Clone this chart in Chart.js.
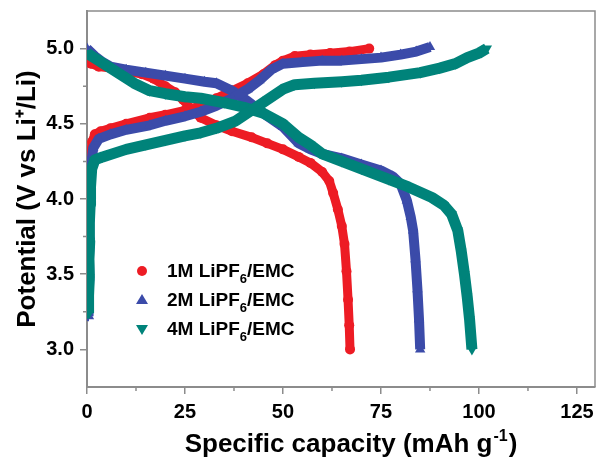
<!DOCTYPE html>
<html>
<head>
<meta charset="utf-8">
<script src="https://cdn.jsdelivr.net/npm/chart.js@4/dist/chart.umd.min.js"></script>
<style>
  html, body { margin: 0; padding: 0; background: #fff; }
</style>
</head>
<body>
<canvas id="chart" width="597" height="462"></canvas>
<script>
// --- data (capacity in mAh/g, potential in V) ---
const xTicks = [0, 25, 50, 75, 100, 125];
const yTicks = [3.0, 3.5, 4.0, 4.5, 5.0];
const xMinor = [12.5, 37.5, 62.5, 87.5, 112.5];
const yMinor = [3.25, 3.75, 4.25, 4.75];

const seriesNames = ['1M LiPF', '2M LiPF', '4M LiPF'];
const seriesSub = ['6', '6', '6'];
const seriesTail = ['/EMC', '/EMC', '/EMC'];
const seriesColors = ['#ED1C24', '#3B4BA9', '#00837A'];

// 1M : charge / discharge
const c1x = [0.4, 0.3, 0.5, 0.4, 0.6, 0.5, 0.7, 0.9, 1.3, 2.0, 3.5, 6, 10, 16, 20, 25, 29, 33, 37, 41, 45, 48, 50, 53, 57, 62, 67, 72];
const c1y = [3.42, 3.55, 3.68, 3.80, 3.92, 4.04, 4.16, 4.28, 4.38, 4.43, 4.45, 4.47, 4.50, 4.54, 4.56, 4.59, 4.62, 4.67, 4.72, 4.77, 4.83, 4.89, 4.92, 4.95, 4.96, 4.97, 4.98, 5.00];
const d1x = [0, 1, 3, 6, 10, 14, 17, 20, 22.5, 24.5, 26.5, 29, 33, 37, 42, 46, 50, 54, 57, 60, 61.8, 62.8, 64, 65, 65.7, 66.2, 66.6, 66.9, 67.1];
const d1y = [4.93, 4.90, 4.88, 4.87, 4.85, 4.83, 4.80, 4.75, 4.71, 4.66, 4.60, 4.54, 4.49, 4.45, 4.41, 4.37, 4.33, 4.28, 4.24, 4.18, 4.12, 4.04, 3.93, 3.82, 3.70, 3.52, 3.33, 3.16, 3.00];

// 2M
const c2x = [0.5, 0.4, 0.6, 0.5, 0.7, 0.6, 0.8, 0.9, 1.1, 1.6, 3, 6, 10, 16, 20, 25, 29, 33, 37, 41, 44, 47, 50, 55, 60, 65, 70, 75, 80, 84, 87.5];
const c2y = [3.22, 3.35, 3.48, 3.61, 3.74, 3.87, 4.00, 4.12, 4.24, 4.34, 4.40, 4.43, 4.46, 4.49, 4.52, 4.55, 4.58, 4.62, 4.67, 4.73, 4.79, 4.86, 4.90, 4.91, 4.92, 4.92, 4.93, 4.94, 4.96, 4.98, 5.01];
const d2x = [0, 2, 4, 6, 10, 15, 20, 25, 30, 33, 37, 41, 45, 50, 54, 57, 60, 65, 70, 75, 78, 80, 81.6, 82.6, 83.2, 83.8, 84.3, 84.7, 85];
const d2y = [5.00, 4.95, 4.91, 4.88, 4.86, 4.84, 4.82, 4.80, 4.78, 4.77, 4.72, 4.65, 4.57, 4.48, 4.37, 4.33, 4.30, 4.27, 4.23, 4.19, 4.15, 4.10, 3.99, 3.88, 3.79, 3.60, 3.40, 3.20, 3.00];

// 4M
const c4x = [0.5, 0.4, 0.6, 0.5, 0.7, 0.6, 0.8, 0.9, 1.2, 2, 4, 10, 15, 20, 25, 29, 33, 38, 42, 46, 50, 53, 58, 65, 70, 77, 85, 90, 94, 97, 100, 102];
const c4y = [3.24, 3.36, 3.48, 3.60, 3.72, 3.84, 3.96, 4.08, 4.20, 4.26, 4.28, 4.33, 4.36, 4.39, 4.42, 4.44, 4.47, 4.52, 4.59, 4.66, 4.73, 4.76, 4.77, 4.78, 4.79, 4.81, 4.84, 4.87, 4.90, 4.94, 4.97, 5.00];
const d4x = [0, 3, 6, 9, 12, 16, 20, 25, 29, 35, 40, 45, 50, 54, 57, 60, 65, 70, 77, 82, 88, 91, 93, 94.6, 95.5, 96.3, 97, 97.6, 98.2];
const d4y = [4.97, 4.92, 4.87, 4.82, 4.77, 4.72, 4.70, 4.68, 4.67, 4.64, 4.61, 4.57, 4.50, 4.41, 4.36, 4.30, 4.25, 4.20, 4.13, 4.08, 4.01, 3.96, 3.90, 3.79, 3.65, 3.50, 3.35, 3.20, 3.00];

const xTitle = ['Specific capacity (mAh g', '-1', ')'];

const FONT = "'Liberation Sans', Arial, sans-serif";
const AXIS_GREY = '#8c8c8c';

function pts(xs, ys) {
    return xs.map((x, i) => ({ x: x, y: ys[i] }));
}

function curve(xs, ys, color, style, rot, width, radius, order) {
    return {
        data: pts(xs, ys),
        showLine: true,
        borderColor: color,
        backgroundColor: color,
        borderWidth: width,
        borderJoinStyle: 'round',
        pointStyle: style,
        rotation: rot,
        pointRadius: radius,
        pointBorderWidth: 0,
        pointBackgroundColor: color,
        order: order
    };
}

// top/right frame + minor ticks + x title with superscript
const framePlugin = {
    id: 'frame',
    afterDraw(chart) {
        const { ctx, chartArea: a, scales } = chart;
        ctx.save();
        ctx.strokeStyle = AXIS_GREY;
        ctx.lineWidth = 1.5;
        ctx.beginPath();
        ctx.moveTo(a.left, a.top);
        ctx.lineTo(a.right, a.top);
        ctx.lineTo(a.right, a.bottom);
        ctx.stroke();

        ctx.beginPath();
        xMinor.forEach(v => {
            const px = scales.x.getPixelForValue(v);
            ctx.moveTo(px, a.bottom);
            ctx.lineTo(px, a.bottom + 4);
        });
        yMinor.forEach(v => {
            const py = scales.y.getPixelForValue(v);
            ctx.moveTo(a.left, py);
            ctx.lineTo(a.left - 4, py);
        });
        ctx.stroke();

        // x axis title, superscript drawn by hand
        const big = 'bold 26px ' + FONT, small = 'bold 16px ' + FONT;
        ctx.fillStyle = '#000';
        ctx.textBaseline = 'alphabetic';
        ctx.font = big;
        const w0 = ctx.measureText(xTitle[0]).width, w2 = ctx.measureText(xTitle[2]).width;
        ctx.font = small;
        const w1 = ctx.measureText(xTitle[1]).width;
        let tx = 350 - (w0 + w1 + w2) / 2;
        const base = 452;
        ctx.font = big;
        ctx.fillText(xTitle[0], tx, base);
        tx += w0 + 1;
        ctx.font = small;
        ctx.fillText(xTitle[1], tx, base - 11);
        tx += w1 + 1;
        ctx.font = big;
        ctx.fillText(xTitle[2], tx, base);
        ctx.restore();
    }
};

// legend with subscripts
const legendPlugin = {
    id: 'subLegend',
    afterDraw(chart) {
        const ctx = chart.ctx;
        const x0 = 142, y0 = 271, step = 29;
        ctx.save();
        seriesNames.forEach((name, i) => {
            const y = y0 + i * step;
            ctx.fillStyle = seriesColors[i];
            ctx.beginPath();
            if (i === 0) {
                ctx.arc(x0, y, 5, 0, Math.PI * 2);
            } else if (i === 1) {
                ctx.moveTo(x0, y - 6);
                ctx.lineTo(x0 + 6, y + 4);
                ctx.lineTo(x0 - 6, y + 4);
            } else {
                ctx.moveTo(x0, y + 6);
                ctx.lineTo(x0 + 6, y - 4);
                ctx.lineTo(x0 - 6, y - 4);
            }
            ctx.closePath();
            ctx.fill();

            ctx.fillStyle = '#000';
            ctx.textBaseline = 'middle';
            ctx.font = 'bold 19px ' + FONT;
            let tx = 167;
            ctx.fillText(name, tx, y + 1);
            tx += ctx.measureText(name).width;
            ctx.font = 'bold 13px ' + FONT;
            ctx.fillText(seriesSub[i], tx, y + 8);
            tx += ctx.measureText(seriesSub[i]).width;
            ctx.font = 'bold 19px ' + FONT;
            ctx.fillText(seriesTail[i], tx, y + 1);
        });
        ctx.restore();
    }
};

new Chart(document.getElementById('chart'), {
    type: 'scatter',
    data: {
        datasets: [
            curve(c1x, c1y, seriesColors[0], 'circle', 0, 9, 5, 3),
            curve(d1x, d1y, seriesColors[0], 'circle', 0, 9, 5, 3),
            curve(c2x, c2y, seriesColors[1], 'triangle', 0, 10, 6, 2),
            curve(d2x, d2y, seriesColors[1], 'triangle', 0, 10, 6, 2),
            curve(c4x, c4y, seriesColors[2], 'triangle', 180, 11, 6, 1),
            curve(d4x, d4y, seriesColors[2], 'triangle', 180, 11, 6, 1)
        ]
    },
    options: {
        responsive: false,
        animation: false,
        layout: { autoPadding: false, padding: { top: 11, right: 2, left: 0, bottom: 0 } },
        plugins: {
            legend: { display: false },
            tooltip: { enabled: false }
        },
        scales: {
            x: {
                type: 'linear',
                min: 0,
                max: 129.6,
                afterBuildTicks: s => { s.ticks = xTicks.map(v => ({ value: v })); },
                afterFit: s => { s.height = 75; s.paddingLeft = 0; s.paddingRight = 0; },
                border: { display: true, color: AXIS_GREY, width: 2 },
                grid: { drawOnChartArea: false, drawTicks: true, tickLength: 7, color: AXIS_GREY, lineWidth: 1.5 },
                ticks: {
                    color: '#000',
                    padding: 6,
                    maxRotation: 0,
                    font: { family: FONT, weight: 'bold', size: 20 },
                    callback: v => String(v)
                },
                title: { display: false }
            },
            y: {
                type: 'linear',
                min: 2.75,
                max: 5.25,
                afterBuildTicks: s => { s.ticks = yTicks.map(v => ({ value: v })); },
                afterFit: s => { s.width = 87; s.paddingTop = 0; s.paddingBottom = 0; },
                border: { display: true, color: AXIS_GREY, width: 2 },
                grid: { drawOnChartArea: false, drawTicks: true, tickLength: 7, color: AXIS_GREY, lineWidth: 1.5 },
                ticks: {
                    color: '#000',
                    padding: 6,
                    font: { family: FONT, weight: 'bold', size: 20 },
                    callback: v => v.toFixed(1)
                },
                title: {
                    display: true,
                    text: 'Potential (V vs Li\u207A/Li)',
                    color: '#000',
                    font: { family: FONT, weight: 'bold', size: 26 },
                    padding: { top: 12, bottom: 0 }
                }
            }
        }
    },
    plugins: [framePlugin, legendPlugin]
});
</script>
</body>
</html>
